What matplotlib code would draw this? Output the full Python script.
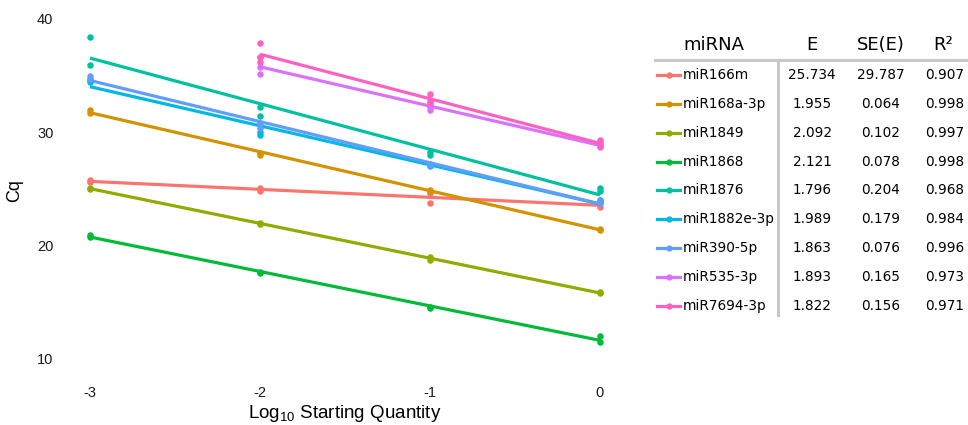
import numpy as np
import matplotlib
matplotlib.use('Agg')
import matplotlib.pyplot as plt
from matplotlib.lines import Line2D

plt.rcParams['axes.unicode_minus'] = False
plt.rcParams['font.family'] = 'Liberation Sans'
plt.rcParams['mathtext.fontset'] = 'custom'
plt.rcParams['mathtext.rm'] = 'Liberation Sans'
plt.rcParams['mathtext.it'] = 'Liberation Sans'

# replicate Cq values per log10 starting quantity
names = ['miR166m', 'miR168a-3p', 'miR1849', 'miR1868', 'miR1876',
         'miR1882e-3p', 'miR390-5p', 'miR535-3p', 'miR7694-3p']
colors = ['#F8766D', '#D39200', '#93AA00', '#00BA38', '#00C19F',
          '#00B9E3', '#619CFF', '#DB72FB', '#FF61C3']

x4 = [-3, -3, -2, -2, -1, -1, 0, 0]
x3 = [-2, -2, -2, -1, -1, -1, 0, 0, 0]

miR166m = [25.8, 25.6, 25.1, 24.8, 24.6, 23.8, 23.8, 23.4]
miR168a = [32.0, 31.7, 28.2, 28.0, 24.9, 24.8, 21.5, 21.4]
miR1849 = [25.1, 25.0, 22.0, 21.9, 19.0, 18.7, 15.9, 15.8]
miR1868 = [20.9, 20.8, 17.7, 17.6, 14.6, 14.5, 12.0, 11.5]
miR1876 = [38.4, 35.9, 32.2, 31.4, 28.3, 28.0, 25.1, 24.8]
miR1882e = [34.6, 34.4, 30.0, 29.8, 27.0, 27.1, 24.0, 23.9]
miR390 = [35.0, 34.7, 30.8, 30.4, 27.2, 27.1, 24.0, 23.8]
miR535 = [36.6, 35.8, 35.1, 32.4, 32.2, 32.0, 29.1, 28.9, 28.7]
miR7694 = [37.9, 36.6, 36.2, 33.4, 32.8, 32.6, 29.3, 29.0, 28.8]

series = [(x4, miR166m), (x4, miR168a), (x4, miR1849), (x4, miR1868),
          (x4, miR1876), (x4, miR1882e), (x4, miR390), (x3, miR535), (x3, miR7694)]

E_vals = ['25.734', '1.955', '2.092', '2.121', '1.796', '1.989', '1.863', '1.893', '1.822']
SE_vals = ['29.787', '0.064', '0.102', '0.078', '0.204', '0.179', '0.076', '0.165', '0.156']
R2_vals = ['0.907', '0.998', '0.997', '0.998', '0.968', '0.984', '0.996', '0.973', '0.971']

W, H = 968, 425
fig = plt.figure(figsize=(W / 100, H / 100), dpi=100)
ax = fig.add_axes([64.5 / W, (H - 372) / H, 561 / W, 362 / H])

for (xs, ys), c in zip(series, colors):
    xs = np.array(xs, float)
    ys = np.array(ys, float)
    ax.scatter(xs, ys, s=22, color=c, zorder=3, linewidths=0)
    m, b = np.polyfit(xs, ys, 1)
    xl = np.array([xs.min(), xs.max()])
    ax.plot(xl, m * xl + b, color=c, lw=2.3, solid_capstyle='butt', zorder=2)

ax.set_xlim(-3.15, 0.15)
ax.set_ylim(8.85, 40.79)
ax.set_xticks([-3, -2, -1, 0])
ax.set_yticks([10, 20, 30, 40])
ax.tick_params(length=0, labelsize=10.5, labelcolor='#1a1a1a')
ax.tick_params(axis='x', pad=10)
ax.tick_params(axis='y', pad=8)
for s in ax.spines.values():
    s.set_visible(False)
ax.set_xlabel('Log$_{10}$ Starting Quantity', fontsize=13.5, labelpad=2)
ax.set_ylabel('Cq', fontsize=13, labelpad=10)


def fy(py):
    return 1 - py / H


def fx(px):
    return px / W


# table legend
tf = 'DejaVu Sans'
hdr_y = 45
fig.text(fx(714), fy(hdr_y), 'miRNA', ha='center', va='center', fontsize=13, family=tf)
fig.text(fx(812), fy(hdr_y), 'E', ha='center', va='center', fontsize=13, family=tf)
fig.text(fx(881), fy(hdr_y), 'SE(E)', ha='center', va='center', fontsize=13, family=tf)
fig.text(fx(943), fy(hdr_y), 'R²', ha='center', va='center', fontsize=13, family=tf)
fig.add_artist(Line2D([fx(655), fx(968)], [fy(59.5), fy(59.5)], color='#c8c8c8', lw=2.2))
fig.add_artist(Line2D([fx(778), fx(778)], [fy(61), fy(315)], color='#c8c8c8', lw=2.2))

row0 = 75
step = 28.85
for i, name in enumerate(names):
    ry = row0 + i * step
    fig.add_artist(Line2D([fx(657), fx(680)], [fy(ry), fy(ry)], color=colors[i], lw=2.3))
    fig.add_artist(Line2D([fx(668.5)], [fy(ry)], color=colors[i], marker='o', ms=3.5, lw=0))
    fig.text(fx(683), fy(ry), name, ha='left', va='center', fontsize=9.8, family=tf)
    fig.text(fx(812), fy(ry), E_vals[i], ha='center', va='center', fontsize=9.8, family=tf)
    fig.text(fx(881), fy(ry), SE_vals[i], ha='center', va='center', fontsize=9.8, family=tf)
    fig.text(fx(945), fy(ry), R2_vals[i], ha='center', va='center', fontsize=9.8, family=tf)

fig.savefig('out.png', dpi=100)
